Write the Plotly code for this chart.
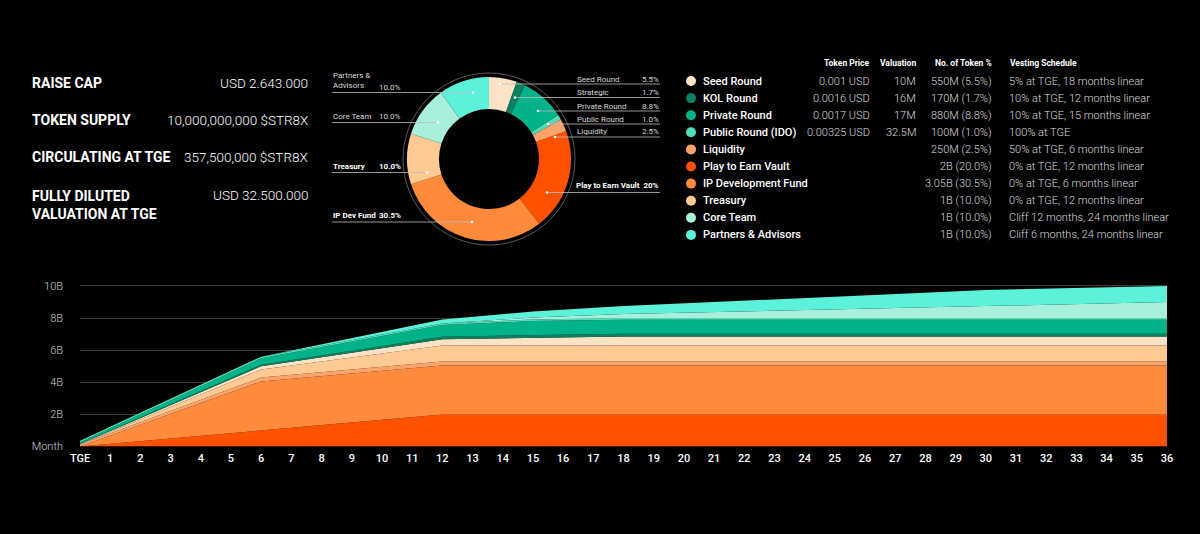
import plotly.graph_objects as go

# ---------------- data ----------------
summary_labels = ["RAISE CAP", "TOKEN SUPPLY", "CIRCULATING AT TGE", "FULLY DILUTED<br>VALUATION AT TGE"]
summary_values = ["USD 2.643.000", "10,000,000,000 $STR8X", "357,500,000 $STR8X", "USD 32.500.000"]

donut_labels = ["Seed Round", "Strategic", "Private Round", "Public Round", "Liquidity",
                "Play to Earn Vault", "IP Dev Fund", "Treasury", "Core Team", "Partners & Advisors"]
donut_pct = [5.5, 1.7, 8.8, 1.0, 2.5, 20.0, 30.5, 10.0, 10.0, 10.0]

table_names = ["Seed Round", "KOL Round", "Private Round", "Public Round (IDO)", "Liquidity",
               "Play to Earn Vault", "IP Development Fund", "Treasury", "Core Team", "Partners & Advisors"]
table_price = ["0.001 USD", "0.0016 USD", "0.0017 USD", "0.00325 USD", "", "", "", "", "", ""]
table_valuation = ["10M", "16M", "17M", "32.5M", "", "", "", "", "", ""]
table_tokens = ["550M (5.5%)", "170M (1.7%)", "880M (8.8%)", "100M (1.0%)", "250M (2.5%)",
                "2B (20.0%)", "3.05B (30.5%)", "1B (10.0%)", "1B (10.0%)", "1B (10.0%)"]
table_vesting = ["5% at TGE, 18 months linear", "10% at TGE, 12 months linear",
                 "10% at TGE, 15 months linear", "100% at TGE", "50% at TGE, 6 months linear",
                 "0% at TGE, 12 months linear", "0% at TGE, 6 months linear",
                 "0% at TGE, 12 months linear", "Cliff 12 months, 24 months linear",
                 "Cliff 6 months, 24 months linear"]

colors = {
    "Seed Round": "#FCE3C6",
    "KOL Round": "#0E7F60",
    "Private Round": "#00B388",
    "Public Round (IDO)": "#4DDDB8",
    "Liquidity": "#FBA36A",
    "Play to Earn Vault": "#FF5200",
    "IP Development Fund": "#FF8A3C",
    "Treasury": "#FFC992",
    "Core Team": "#A8F0DC",
    "Partners & Advisors": "#5CF2DA",
}

# unlocked supply (billions) at schedule breakpoints
months = [0, 6, 12, 15, 18, 30, 36]
play_to_earn = [0.0, 1.0, 2.0, 2.0, 2.0, 2.0, 2.0]
ip_dev_fund = [0.0, 3.05, 3.05, 3.05, 3.05, 3.05, 3.05]
liquidity = [0.125, 0.25, 0.25, 0.25, 0.25, 0.25, 0.25]
treasury = [0.0, 0.5, 1.0, 1.0, 1.0, 1.0, 1.0]
seed_round = [0.0275, 0.2017, 0.3758, 0.4629, 0.55, 0.55, 0.55]
kol_round = [0.017, 0.0935, 0.17, 0.17, 0.17, 0.17, 0.17]
private_round = [0.088, 0.4048, 0.7216, 0.88, 0.88, 0.88, 0.88]
public_round = [0.1, 0.1, 0.1, 0.1, 0.1, 0.1, 0.1]
core_team = [0.0, 0.0, 0.0, 0.125, 0.25, 0.75, 1.0]
partners = [0.0, 0.0, 0.25, 0.375, 0.5, 1.0, 1.0]

month_ticks = [0, 1, 2, 3, 4, 5, 6, 7, 8, 9, 10, 11, 12, 13, 14, 15, 16, 17, 18, 19, 20, 21, 22, 23,
               24, 25, 26, 27, 28, 29, 30, 31, 32, 33, 34, 35, 36]
month_labels = ["TGE", "1", "2", "3", "4", "5", "6", "7", "8", "9", "10", "11", "12", "13", "14", "15",
                "16", "17", "18", "19", "20", "21", "22", "23", "24", "25", "26", "27", "28", "29", "30",
                "31", "32", "33", "34", "35", "36"]
supply_ticks = [0, 2, 4, 6, 8, 10]
supply_labels = ["Month", "2B", "4B", "6B", "8B", "10B"]

# ---------------- helpers ----------------
W, H = 1200, 534
def px(x):
    return x / W
def py(y):
    return 1 - y / H

FONT = "Roboto"
fig = go.Figure()

# stacked areas (bottom to top)
stack = [
    ("Play to Earn Vault", play_to_earn),
    ("IP Development Fund", ip_dev_fund),
    ("Liquidity", liquidity),
    ("Treasury", treasury),
    ("Seed Round", seed_round),
    ("KOL Round", kol_round),
    ("Private Round", private_round),
    ("Public Round (IDO)", public_round),
    ("Core Team", core_team),
    ("Partners & Advisors", partners),
]
for name, vals in stack:
    fig.add_trace(go.Scatter(
        x=months, y=vals, name=name, mode="lines", stackgroup="one",
        line=dict(width=0, color=colors[name]), fillcolor=colors[name],
        hoverinfo="skip", showlegend=False))

# donut
pie_colors = [colors["Seed Round"], colors["KOL Round"], colors["Private Round"],
              colors["Public Round (IDO)"], colors["Liquidity"], colors["Play to Earn Vault"],
              colors["IP Development Fund"], colors["Treasury"], colors["Core Team"],
              colors["Partners & Advisors"]]
cx, cy, r = 489, 159, 82
fig.add_trace(go.Pie(
    labels=donut_labels, values=donut_pct, sort=False, direction="clockwise", rotation=0,
    hole=0.61, textinfo="none", hoverinfo="skip", showlegend=False,
    marker=dict(colors=pie_colors, line=dict(width=0)),
    domain=dict(x=[px(cx - r), px(cx + r)], y=[py(cy + r), py(cy - r)])))

shapes = []
annotations = []

# outer ring
shapes.append(dict(type="circle", xref="paper", yref="paper",
                   x0=px(cx - 86), x1=px(cx + 86), y0=py(cy + 86), y1=py(cy - 86),
                   line=dict(color="#5a5a5a", width=1), layer="below"))

# summary block
sum_y = [83, 120, 157, 195]
for lab, val, yy in zip(summary_labels, summary_values, sum_y):
    if "<br>" in lab:
        annotations.append(dict(x=px(30), y=py(yy - 9.5), xref="paper", yref="paper", text=lab,
                                showarrow=False, xanchor="left", yanchor="top", align="left",
                                font=dict(family=FONT, size=14, color="white", weight=700)))
    else:
        annotations.append(dict(x=px(30), y=py(yy), xref="paper", yref="paper", text=lab,
                                showarrow=False, xanchor="left", yanchor="middle",
                                font=dict(family=FONT, size=14, color="white", weight=700)))
    annotations.append(dict(x=px(310), y=py(yy), xref="paper", yref="paper", text=val,
                            showarrow=False, xanchor="right", yanchor="middle",
                            font=dict(family=FONT, size=13.5, color="white", weight=300)))

# donut callouts: (label, pct, text_y, line_y, x_start, side, bold)
callouts = [
    ("Seed Round", "5.5%", 79, 84, 500, "right", False),
    ("Strategic", "1.7%", 92.5, 97.5, 515, "right", False),
    ("Private Round", "8.8%", 106, 111, 538, "right", False),
    ("Public Round", "1.0%", 119, 124, 548, "right", False),
    ("Liquidity", "2.5%", 132, 137, 555, "right", False),
    ("Partners &<br>Advisors", "10.0%", 87, 92.5, 473, "left", False),
    ("Core Team", "10.0%", 117, 122.5, 438, "left", False),
    ("Treasury", "10.0%", 166.5, 172.5, 427, "left", True),
    ("IP Dev Fund", "30.5%", 215.5, 222, 472, "left", True),
]
for lab, pct, ty, ly, xs, side, bold in callouts:
    wt = 700 if bold else 400
    col = "white" if bold else "#d8d8d8"
    if side == "right":
        shapes.append(dict(type="line", xref="paper", yref="paper", x0=px(xs), x1=px(660),
                           y0=py(ly), y1=py(ly), line=dict(color="#bdbdbd", width=0.8)))
        annotations.append(dict(x=px(575), y=py(ty), xref="paper", yref="paper", text=lab,
                                showarrow=False, xanchor="left", yanchor="middle",
                                font=dict(family=FONT, size=8, color=col, weight=wt)))
        annotations.append(dict(x=px(661), y=py(ty), xref="paper", yref="paper", text=pct,
                                showarrow=False, xanchor="right", yanchor="middle",
                                font=dict(family=FONT, size=8, color=col, weight=wt)))
    else:
        shapes.append(dict(type="line", xref="paper", yref="paper", x0=px(332), x1=px(xs),
                           y0=py(ly), y1=py(ly), line=dict(color="#bdbdbd", width=0.8)))
        if "<br>" in lab:
            annotations.append(dict(x=px(331), y=py(ty + 4.5), xref="paper", yref="paper", text=lab,
                                    showarrow=False, xanchor="left", yanchor="bottom", align="left",
                                    font=dict(family=FONT, size=8, color=col, weight=wt)))
        else:
            annotations.append(dict(x=px(331), y=py(ty), xref="paper", yref="paper", text=lab,
                                    showarrow=False, xanchor="left", yanchor="middle",
                                    font=dict(family=FONT, size=8, color=col, weight=wt)))
        annotations.append(dict(x=px(403), y=py(ty), xref="paper", yref="paper", text=pct,
                                showarrow=False, xanchor="right", yanchor="middle",
                                font=dict(family=FONT, size=8, color=col, weight=wt)))
    shapes.append(dict(type="circle", xref="paper", yref="paper",
                       x0=px(xs - 1.3), x1=px(xs + 1.3), y0=py(ly + 1.3), y1=py(ly - 1.3),
                       fillcolor="white", line=dict(width=0)))

# Play to Earn callout
shapes.append(dict(type="line", xref="paper", yref="paper", x0=px(547), x1=px(660),
                   y0=py(192.5), y1=py(192.5), line=dict(color="#bdbdbd", width=0.8)))
shapes.append(dict(type="circle", xref="paper", yref="paper",
                   x0=px(545.7), x1=px(548.3), y0=py(193.8), y1=py(191.2),
                   fillcolor="white", line=dict(width=0)))
annotations.append(dict(x=px(661), y=py(185.5), xref="paper", yref="paper",
                        text="Play to Earn Vault  20%", showarrow=False,
                        xanchor="right", yanchor="middle",
                        font=dict(family=FONT, size=8, color="white", weight=700)))

# table header
headers = [("Token Price", 872, "right"), ("Valuation", 918, "right"),
           ("No. of Token %", 994, "right"), ("Vesting Schedule", 1008, "left")]
for txt, xx, anc in headers:
    annotations.append(dict(x=px(xx), y=py(62.5), xref="paper", yref="paper", text=txt,
                            showarrow=False, xanchor=anc, yanchor="middle",
                            font=dict(family=FONT, size=8.5, color="white", weight=700)))

# table rows
for i, name in enumerate(table_names):
    yy = 81 + 17.1 * i
    shapes.append(dict(type="circle", xref="paper", yref="paper",
                       x0=px(686), x1=px(696), y0=py(yy + 5), y1=py(yy - 5),
                       fillcolor=colors[name], line=dict(width=0)))
    annotations.append(dict(x=px(701), y=py(yy), xref="paper", yref="paper", text=name,
                            showarrow=False, xanchor="left", yanchor="middle",
                            font=dict(family=FONT, size=11, color="white", weight=500)))
    for txt, xx, anc in [(table_price[i], 872, "right"), (table_valuation[i], 918, "right"),
                         (table_tokens[i], 994, "right"), (table_vesting[i], 1007, "left")]:
        if txt:
            annotations.append(dict(x=px(xx), y=py(yy), xref="paper", yref="paper", text=txt,
                                    showarrow=False, xanchor=anc, yanchor="middle",
                                    font=dict(family=FONT, size=11, color="#dcdcdc", weight=300)))

# axes geometry: 0 at y=446.5, 16.05 px per billion
y0_px = 446.5
ppb = 16.05
ymax = 10.3
fig.update_layout(
    width=W, height=H,
    paper_bgcolor="black", plot_bgcolor="black",
    margin=dict(l=0, r=0, t=0, b=0),
    showlegend=False,
    xaxis=dict(domain=[px(80), px(1167)], range=[0, 36], tickvals=month_ticks, ticktext=month_labels,
               showgrid=False, zeroline=False, showline=False, ticks="", automargin=False,
               ticklabelstandoff=3,
               tickfont=dict(family=FONT, size=11, color="white", weight=500)),
    yaxis=dict(domain=[py(y0_px), py(y0_px - ymax * ppb)], range=[0, ymax],
               tickvals=supply_ticks, ticktext=supply_labels,
               showgrid=True, gridcolor="#3a3a3a", gridwidth=1, zeroline=False, showline=False,
               ticks="", automargin=False, ticklabelstandoff=16,
               tickfont=dict(family=FONT, size=11, color="#cfcfcf", weight=300)),
    shapes=shapes,
    annotations=annotations,
)

fig.write_html("out.html", config={"displayModeBar": False},
               post_script="document.body.style.margin='0';document.body.style.background='black';")
